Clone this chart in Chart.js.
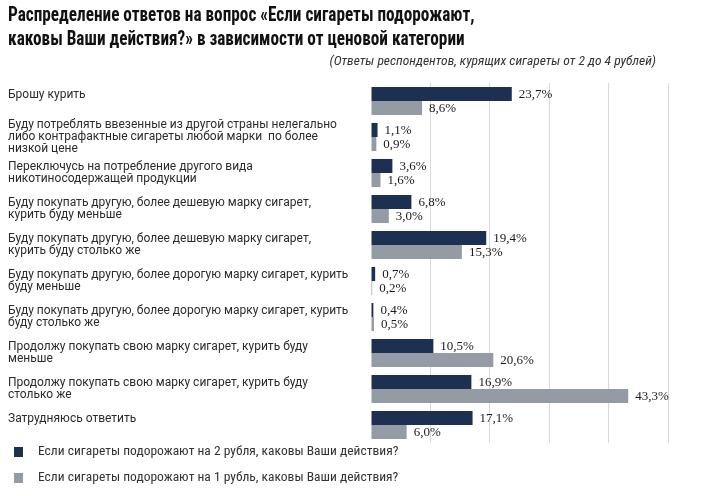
<!DOCTYPE html>
<html lang="ru">
<head>
  <meta charset="UTF-8">
  <title>Распределение ответов</title>
  <script src="https://cdn.jsdelivr.net/npm/chart.js"></script>
  <style>
    html, body {
      margin: 0;
      padding: 0;
      background: #fff;
    }
    #wrap {
      width: 720px;
      height: 496px;
    }
  </style>
</head>
<body>
  <div id="wrap">
    <canvas id="chart" width="720" height="496"></canvas>
  </div>

  <script>
    const titleLines = [
      'Распределение ответов на вопрос «Если сигареты подорожают,',
      'каковы Ваши действия?» в зависимости от ценовой категории'
    ];
    const subtitleText = '(Ответы респондентов, курящих сигареты от 2 до 4 рублей)';
    const categories = [
      ['Брошу курить', ''],
      ['Буду потреблять ввезенные из другой страны нелегально', 'либо контрафактные сигареты любой марки  по более', 'низкой цене'],
      ['Переключусь на потребление другого вида', 'никотиносодержащей продукции'],
      ['Буду покупать другую, более дешевую марку сигарет,', 'курить буду меньше'],
      ['Буду покупать другую, более дешевую марку сигарет,', 'курить буду столько же'],
      ['Буду покупать другую, более дорогую марку сигарет, курить', 'буду меньше'],
      ['Буду покупать другую, более дорогую марку сигарет, курить', 'буду столько же'],
      ['Продолжу покупать свою марку сигарет, курить буду', 'меньше'],
      ['Продолжу покупать свою марку сигарет, курить буду', 'столько же'],
      ['Затрудняюсь ответить', '']
    ];
    const seriesNames = [
      'Если сигареты подорожают на 2 рубля, каковы Ваши действия?',
      'Если сигареты подорожают на 1 рубль, каковы Ваши действия?'
    ];
    const plus2 = [23.7, 1.1, 3.6, 6.8, 19.4, 0.7, 0.4, 10.5, 16.9, 17.1];
    const plus1 = [8.6, 0.9, 1.6, 3.0, 15.3, 0.2, 0.5, 20.6, 43.3, 6.0];
    const xTicks = [0, 10, 20, 30, 40, 50];

    const NARROW = "'Liberation Sans Narrow', 'Roboto Condensed', 'DejaVu Sans Condensed', Roboto, sans-serif";
    const colors = ['#1e3052', '#949ba5'];

    // заголовок (узкий жирный шрифт) и подзаголовок справа
    const header = {
      id: 'header',
      afterDraw(chart) {
        const ctx = chart.ctx;
        const sx = 0.82;
        ctx.save();
        ctx.fillStyle = '#111';
        ctx.textBaseline = 'middle';
        ctx.textAlign = 'left';
        ctx.font = 'bold 21px ' + NARROW;
        ctx.save();
        ctx.scale(sx, 1);
        titleLines.forEach((line, i) => {
          ctx.fillText(line, 8 / sx, 16 + i * 24);
        });
        ctx.restore();
        ctx.fillStyle = '#333';
        ctx.textAlign = 'right';
        ctx.font = 'italic 13.5px ' + NARROW;
        ctx.fillText(subtitleText, 656, 62);
        ctx.restore();
      }
    };

    // подписи значений справа от столбцов
    const valueLabels = {
      id: 'valueLabels',
      afterDatasetsDraw(chart) {
        const ctx = chart.ctx;
        ctx.save();
        ctx.font = '13px "Liberation Serif", "Times New Roman", serif';
        ctx.fillStyle = '#1a1a1a';
        ctx.textAlign = 'left';
        ctx.textBaseline = 'middle';
        chart.data.datasets.forEach((ds, i) => {
          chart.getDatasetMeta(i).data.forEach((bar, j) => {
            const txt = ds.data[j].toFixed(1).replace('.', ',') + '%';
            ctx.fillText(txt, bar.x + 7, bar.y + 1);
          });
        });
        ctx.restore();
      }
    };

    // легенда в два ряда под графиком
    const legendRows = {
      id: 'legendRows',
      afterDraw(chart) {
        const ctx = chart.ctx;
        const base = chart.chartArea.bottom + 9;
        ctx.save();
        ctx.font = '13.5px ' + NARROW;
        ctx.textAlign = 'left';
        ctx.textBaseline = 'middle';
        chart.data.datasets.forEach((ds, i) => {
          const y = base + i * 26;
          ctx.fillStyle = ds.backgroundColor;
          ctx.fillRect(14, y - 5, 9, 10);
          ctx.fillStyle = '#333';
          ctx.fillText(ds.label, 38, y);
        });
        ctx.restore();
      }
    };

    new Chart(document.getElementById('chart'), {
      type: 'bar',
      data: {
        labels: categories,
        datasets: [
          { label: seriesNames[0], data: plus2, backgroundColor: colors[0] },
          { label: seriesNames[1], data: plus1, backgroundColor: colors[1] }
        ]
      },
      options: {
        indexAxis: 'y',
        responsive: false,
        animation: false,
        devicePixelRatio: 1,
        layout: {
          padding: { top: 83, left: 8, right: 52, bottom: 53 }
        },
        datasets: {
          bar: { categoryPercentage: 0.78, barPercentage: 1 }
        },
        scales: {
          x: {
            min: xTicks[0],
            max: xTicks[xTicks.length - 1],
            afterBuildTicks: (scale) => {
              scale.ticks = xTicks.map(v => ({ value: v }));
            },
            ticks: { display: false },
            border: { display: false },
            grid: {
              drawTicks: false,
              color: (c) => c.tick && c.tick.value === 0 ? 'rgba(0,0,0,0)' : '#d9d9d9'
            }
          },
          y: {
            afterFit: (scale) => { scale.width = 363; },
            border: { display: false },
            grid: { display: false, drawTicks: false },
            ticks: {
              autoSkip: false,
              crossAlign: 'far',
              color: '#2b2b2b',
              font: { family: 'Roboto, sans-serif', size: 12, lineHeight: 1.0 }
            }
          }
        },
        plugins: {
          legend: { display: false },
          tooltip: { enabled: false }
        }
      },
      plugins: [header, valueLabels, legendRows]
    });
  </script>
</body>
</html>
